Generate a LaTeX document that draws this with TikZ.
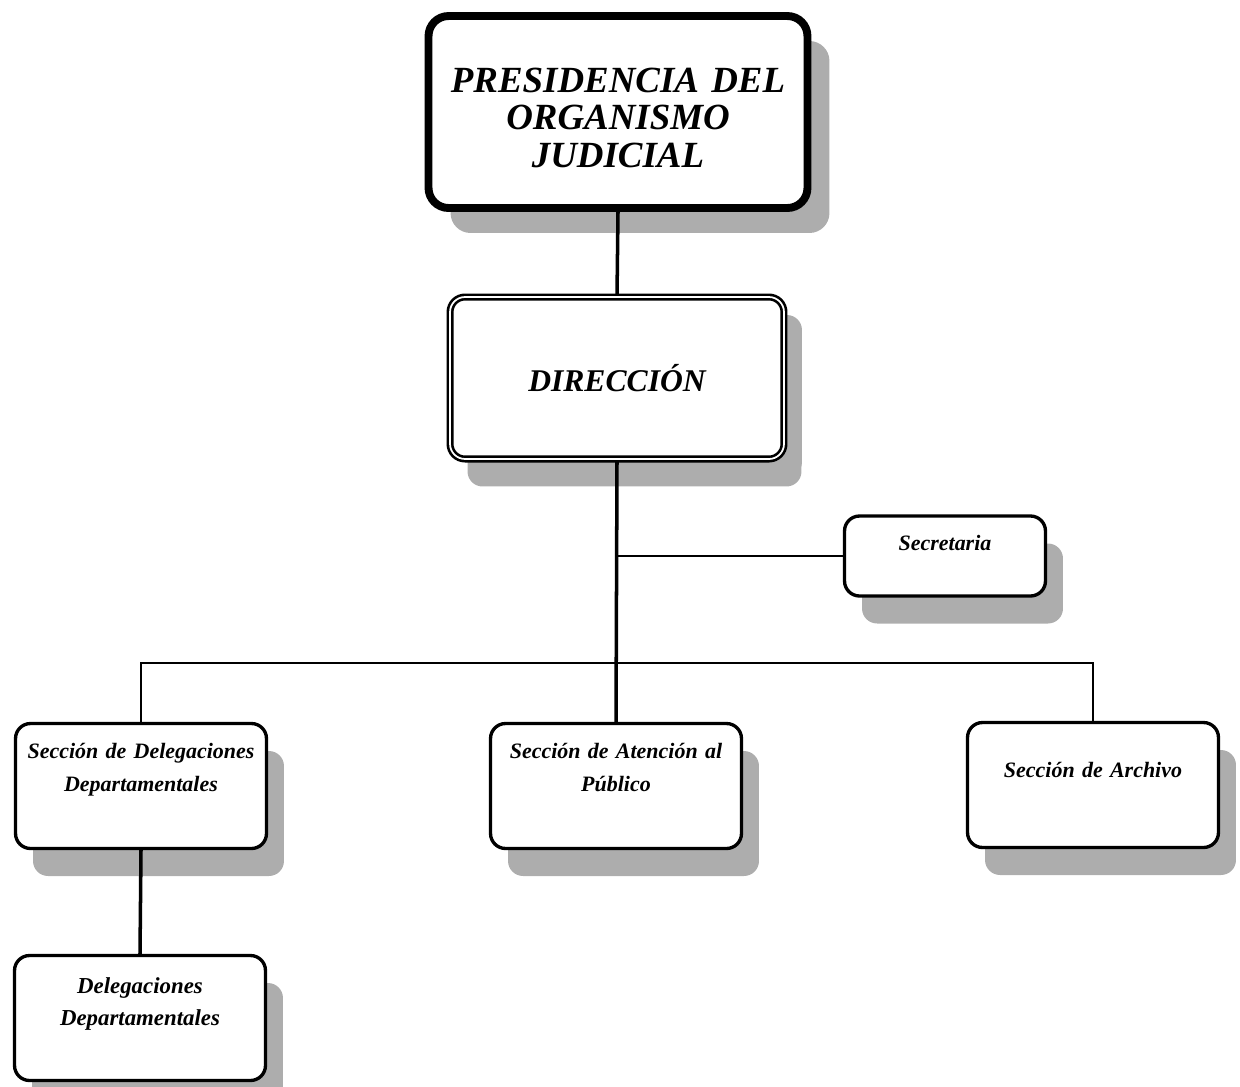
\documentclass[tikz,border=0pt]{standalone}
\usepackage{fontspec}
\setmainfont{Liberation Serif}
\usetikzlibrary{shadows}

\begin{document}
\begin{tikzpicture}[x=0.02cm, y=-0.02cm,
    unit/.style={draw, fill=white, line width=1.9pt, rounded corners=0.3cm,
      inner xsep=0pt, align=center, text width=4.9cm,
      minimum width=5.02cm, minimum height=2.5cm,
      font=\bfseries\itshape\fontsize{12.5}{18.8}\selectfont,
      drop shadow={shadow xshift=0.35cm, shadow yshift=-0.55cm, fill=black!32, opacity=1}},
    head/.style={draw, fill=white, line width=4.5pt, rounded corners=0.4cm,
      inner xsep=0pt, align=center, text width=7.5cm,
      minimum width=7.58cm, minimum height=3.84cm,
      font=\bfseries\itshape\fontsize{21}{21.5}\selectfont,
      drop shadow={shadow xshift=0.44cm, shadow yshift=-0.5cm, fill=black!32, opacity=1}},
    top text/.style={text height=0.3cm, text depth=#1},
    link/.style={line width=2pt}]
    % \draw[help lines] (0,0) grid (1240,1086);
    \useasboundingbox (0,0) rectangle (1240,1086);

    \node[head, text height=0.6cm, text depth=1.4cm] (pres) at (618,112)
      {PRESIDENCIA DEL\\ ORGANISMO\\ JUDICIAL};

    \node[unit, line width=1.5pt, double=white, double distance=1pt,
      minimum width=6.68cm, minimum height=3.24cm, text width=6.5cm,
      font=\bfseries\itshape\fontsize{18}{20}\selectfont,
      drop shadow={shadow xshift=0.36cm, shadow yshift=-0.36cm, fill=black!32, opacity=1}]
      (dir) at (617,378) {DIRECCIÓN};

    \node[unit, top text=0.54cm, minimum width=4.02cm, minimum height=1.6cm, text width=3.9cm]
      (sec) at (945,556) {Secretaria};

    \node[unit, top text=1.42cm] (sdd) at (141,786) {Sección de Delegaciones\\ Departamentales};
    \node[unit, top text=1.42cm] (sap) at (616,786) {Sección de Atención al\\ Público};
    \node[unit, top text=0.62cm] (sar) at (1093,785) {Sección de Archivo};

    \node[unit, top text=1.3cm, font=\bfseries\itshape\fontsize{13}{18.5}\selectfont]
      (ddp) at (140,1018) {Delegaciones\\ Departamentales};

    \coordinate (bus) at (617,663);

    \draw[link] (pres.south) -- (dir.north);
    \draw[link] (dir.south) -- (sap.north);
    \draw[line width=1.3pt] (sec.west) -- (sec.west -| dir.south);
    \draw[line width=1.3pt] (sdd.north) |- (bus) -| (sar.north);
    \draw[link] (sdd.south) -- (ddp.north);
\end{tikzpicture}
\end{document}
